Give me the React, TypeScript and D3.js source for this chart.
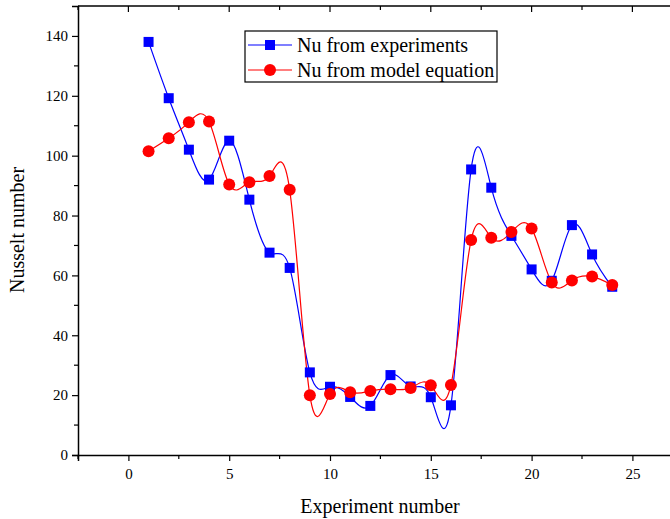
import React, { useEffect, useRef } from 'react';
import * as d3 from 'd3';

const experiments = [1, 2, 3, 4, 5, 6, 7, 8, 9, 10, 11, 12, 13, 14, 15, 16, 17, 18, 19, 20, 21, 22, 23, 24];
const nuExperiments = [138, 119.2, 102, 92, 105, 85.3, 67.6, 62.5, 27.6, 22.8, 19.4, 16.4, 26.7, 22.9, 19.3, 16.6, 95.4, 89.3, 73.2, 62, 58.2, 76.8, 67, 56.2];
const nuModel = [101.5, 105.8, 111.2, 111.4, 90.4, 91.1, 93.2, 88.6, 20, 20.4, 21, 21.4, 22, 22.4, 23.3, 23.4, 71.8, 72.6, 74.5, 75.7, 57.6, 58.3, 59.6, 56.8];
const xTicks = [0, 5, 10, 15, 20, 25];
const yTicks = [0, 20, 40, 60, 80, 100, 120, 140];
const seriesNames = ['Nu from experiments', 'Nu from model equation'];

const W = 670;
const H = 519;
const FONT = "'Liberation Serif', 'Times New Roman', Times, serif";

const App = () => {
  const ref = useRef<SVGSVGElement | null>(null);

  useEffect(() => {
    const svg = d3.select(ref.current);
    svg.selectAll('*').remove();

    const left = 78;
    const top = 6;
    const bottom = 455;

    const x = d3.scaleLinear().domain([-2.5, 27.5]).range([left, left + 30 * 20.16]);
    const y = d3.scaleLinear().domain([0, 150]).range([bottom, top]);

    // top frame line
    svg.append('line')
      .attr('x1', left).attr('x2', x(27.5)).attr('y1', top).attr('y2', top)
      .attr('stroke', '#000').attr('stroke-width', 1.5);

    const minorX = d3.range(-2.5, 28, 2.5);
    const minorY = d3.range(10, 150, 20);

    const gx = svg.append('g')
      .attr('transform', `translate(0,${bottom})`)
      .call(d3.axisBottom(x).tickValues(xTicks).tickSize(6).tickPadding(7).tickFormat(d3.format('d')));
    gx.append('g').selectAll('line').data(minorX.filter(v => !xTicks.includes(v)))
      .join('line')
      .attr('x1', d => x(d)).attr('x2', d => x(d))
      .attr('y1', 0).attr('y2', 4).attr('stroke', '#000').attr('stroke-width', 1.2);

    const gy = svg.append('g')
      .attr('transform', `translate(${left},0)`)
      .call(d3.axisLeft(y).tickValues(yTicks).tickSize(6).tickPadding(4).tickFormat(d3.format('d')));
    gy.append('g').selectAll('line').data(minorY)
      .join('line')
      .attr('x1', 0).attr('x2', -4)
      .attr('y1', d => y(d)).attr('y2', d => y(d)).attr('stroke', '#000').attr('stroke-width', 1.2);

    [gx, gy].forEach(g => {
      g.attr('font-family', null);
      g.style('font-family', FONT);
      g.select('.domain').attr('stroke', '#000').attr('stroke-width', 1.5);
      g.selectAll('.tick line').attr('stroke', '#000').attr('stroke-width', 1.2);
      g.selectAll('.tick text').style('font-family', FONT).attr('font-size', 15).attr('fill', '#000');
    });

    // top ticks pointing inward
    svg.append('g').selectAll('line').data(minorX)
      .join('line')
      .attr('x1', d => x(d)).attr('x2', d => x(d))
      .attr('y1', top).attr('y2', d => top + (xTicks.includes(d) ? 6 : 4))
      .attr('stroke', '#000').attr('stroke-width', 1.2);

    svg.append('clipPath').attr('id', 'plotclip')
      .append('rect').attr('x', left).attr('y', top).attr('width', W - left).attr('height', bottom - top);

    const line = d3.line<number>()
      .x((_, i) => x(experiments[i]))
      .y(d => y(d))
      .curve(d3.curveNatural);

    const plot = svg.append('g').attr('clip-path', 'url(#plotclip)');

    plot.append('path').datum(nuExperiments)
      .attr('d', line).attr('fill', 'none').attr('stroke', '#0000ff').attr('stroke-width', 1.2);
    plot.append('path').datum(nuModel)
      .attr('d', line).attr('fill', 'none').attr('stroke', '#ff0000').attr('stroke-width', 1.2);

    plot.append('g').selectAll('rect').data(nuExperiments)
      .join('rect')
      .attr('x', (_, i) => x(experiments[i]) - 5)
      .attr('y', d => y(d) - 5)
      .attr('width', 10).attr('height', 10)
      .attr('fill', '#0000ff');

    plot.append('g').selectAll('circle').data(nuModel)
      .join('circle')
      .attr('cx', (_, i) => x(experiments[i]))
      .attr('cy', d => y(d))
      .attr('r', 6)
      .attr('fill', '#ff0000');

    // legend
    const lg = svg.append('g');
    lg.append('rect')
      .attr('x', 245).attr('y', 31).attr('width', 252).attr('height', 51)
      .attr('fill', '#fff').attr('stroke', '#000').attr('stroke-width', 1.2);
    const colors = ['#0000ff', '#ff0000'];
    seriesNames.forEach((name, i) => {
      const cy = 45 + i * 25;
      lg.append('line').attr('x1', 248).attr('x2', 292).attr('y1', cy).attr('y2', cy)
        .attr('stroke', colors[i]).attr('stroke-width', 1.2);
      if (i === 0) {
        lg.append('rect').attr('x', 265).attr('y', cy - 5).attr('width', 10).attr('height', 10).attr('fill', colors[i]);
      } else {
        lg.append('circle').attr('cx', 270).attr('cy', cy).attr('r', 6).attr('fill', colors[i]);
      }
      lg.append('text').attr('x', 297).attr('y', cy).attr('dy', '0.35em')
        .style('font-family', FONT).attr('font-size', 20).attr('fill', '#000').text(name);
    });

    svg.append('text')
      .attr('x', 380).attr('y', 513)
      .attr('text-anchor', 'middle')
      .style('font-family', FONT).attr('font-size', 20).attr('fill', '#000')
      .text('Experiment number');

    svg.append('text')
      .attr('transform', `translate(24,${230}) rotate(-90)`)
      .attr('text-anchor', 'middle')
      .style('font-family', FONT).attr('font-size', 20).attr('fill', '#000')
      .text('Nusselt number');
  }, []);

  return (
    <svg ref={ref} width={W} height={H} style={{ position: 'absolute', left: 0, top: 0, background: '#fff' }}></svg>
  );
};

export default App;
